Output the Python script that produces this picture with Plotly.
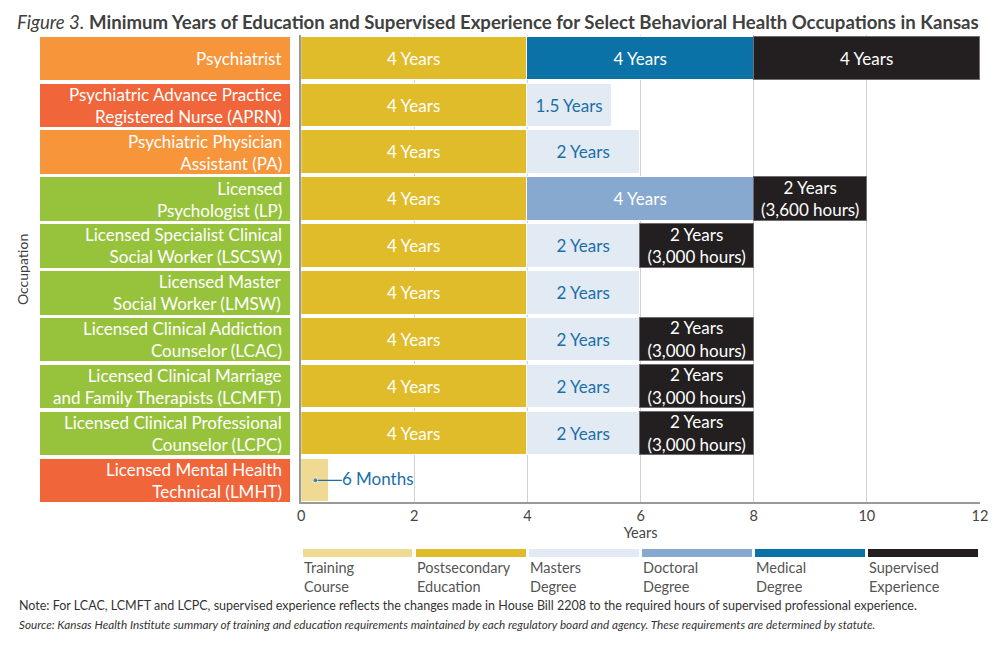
import plotly.graph_objects as go

# ---------------- data ----------------
occupations = [
    "Psychiatrist",
    "Psychiatric Advance Practice<br>Registered Nurse (APRN)",
    "Psychiatric Physician<br>Assistant (PA)",
    "Licensed<br>Psychologist (LP)",
    "Licensed Specialist Clinical<br>Social Worker (LSCSW)",
    "Licensed Master<br>Social Worker (LMSW)",
    "Licensed Clinical Addiction<br>Counselor (LCAC)",
    "Licensed Clinical Marriage<br>and Family Therapists (LCMFT)",
    "Licensed Clinical Professional<br>Counselor (LCPC)",
    "Licensed Mental Health<br>Technical (LMHT)",
]
label_colors = ["#F7953B", "#F1653A", "#F7953B", "#97C33C", "#97C33C",
                "#97C33C", "#97C33C", "#97C33C", "#97C33C", "#F1653A"]

training = [None, None, None, None, None, None, None, None, None, 0.5]
postsecondary = [4, 4, 4, 4, 4, 4, 4, 4, 4, None]
masters = [None, 1.5, 2, None, 2, 2, 2, 2, 2, None]
doctoral = [None, None, None, 4, None, None, None, None, None, None]
medical = [4, None, None, None, None, None, None, None, None, None]
supervised = [4, None, None, 2, 2, None, 2, 2, 2, None]

post_text = ["4 Years"] * 9 + [""]
masters_text = ["", "1.5 Years", "2 Years", "", "2 Years", "2 Years", "2 Years", "2 Years", "2 Years", ""]
doctoral_text = ["", "", "", "4 Years", "", "", "", "", "", ""]
medical_text = ["4 Years"] + [""] * 9
supervised_text = ["4 Years", "", "", "2 Years<br>(3,600 hours)", "2 Years<br>(3,000 hours)", "",
                   "2 Years<br>(3,000 hours)", "2 Years<br>(3,000 hours)", "2 Years<br>(3,000 hours)", ""]
training_note = "6 Months"

legend_names = ["Training<br>Course", "Postsecondary<br>Education", "Masters<br>Degree",
                "Doctoral<br>Degree", "Medical<br>Degree", "Supervised<br>Experience"]
legend_colors = ["#EFD993", "#E1BC2A", "#E2EAF4", "#87A9CF", "#0B72A8", "#231F20"]

x_ticks = [0, 2, 4, 6, 8, 10, 12]

# ---------------- geometry helpers ----------------
W, H = 1000, 645
ML, MR, MT, MB = 40, 17, 35, 85
PW = W - ML - MR
PH = H - MT - MB


def px(x):
    return (x - ML) / PW


def py(y):
    return (H - MB - y) / PH


FONT = "Lato"
rows = list(range(len(occupations)))
BW = 0.927

fig = go.Figure()

# label boxes (left)
fig.add_trace(go.Bar(
    x=[1] * len(rows), y=rows, orientation="h", width=BW,
    marker=dict(color=label_colors, line=dict(width=0)),
    xaxis="x2", yaxis="y", hoverinfo="skip", showlegend=False,
))

segments = [
    (training, [""] * 10, legend_colors[0], "#1A6FA8", "#FFFFFF"),
    (postsecondary, post_text, legend_colors[1], "#FFFFFF", "#FFFFFF"),
    (masters, masters_text, legend_colors[2], "#1A6FA8", "#FFFFFF"),
    (doctoral, doctoral_text, legend_colors[3], "#FFFFFF", "#FFFFFF"),
    (medical, medical_text, legend_colors[4], "#FFFFFF", "#FFFFFF"),
    (supervised, supervised_text, legend_colors[5], "#FFFFFF", "#6E6E6E"),
]
for vals, txt, col, tcol, lcol in segments:
    fig.add_trace(go.Bar(
        x=vals, y=rows, orientation="h", width=BW,
        marker=dict(color=col, line=dict(color=lcol, width=1)),
        text=txt, textposition="inside", insidetextanchor="middle",
        textfont=dict(family=FONT, size=17, color=tcol),
        constraintext="none",
        xaxis="x", yaxis="y", hoverinfo="skip", showlegend=False,
    ))

# 6 Months callout
fig.add_trace(go.Scatter(
    x=[training[9] / 2, 0.72], y=[9, 9], mode="lines+markers+text",
    line=dict(color="#1A6FA8", width=1.2),
    marker=dict(size=[5, 0], color="#1A6FA8"),
    text=["", training_note], textposition="middle right",
    textfont=dict(family=FONT, size=17, color="#1A6FA8"),
    xaxis="x", yaxis="y", hoverinfo="skip", showlegend=False, cliponaxis=False,
))

# legend bars
fig.add_trace(go.Bar(
    x=[i + 0.5 for i in range(6)], y=[1] * 6, width=0.97,
    marker=dict(color=legend_colors, line=dict(width=0)),
    xaxis="x3", yaxis="y3", hoverinfo="skip", showlegend=False,
))

annotations = []
for i, occ in enumerate(occupations):
    annotations.append(dict(
        x=0.975, y=i, xref="x2", yref="y", text=occ, showarrow=False,
        xanchor="right", yanchor="middle", align="right",
        font=dict(family=FONT, size=17, color="#FFFFFF"),
    ))
for i, nm in enumerate(legend_names):
    annotations.append(dict(
        x=i + 0.005, y=py(557), xref="x3", yref="paper", text=nm, showarrow=False,
        xanchor="left", yanchor="top", align="left",
        font=dict(family=FONT, size=14.5, color="#555555"),
    ))
annotations += [
    dict(x=px(15), y=py(22), xref="paper", yref="paper", xanchor="left", yanchor="middle",
         showarrow=False, align="left",
         text="<i>Figure 3.</i> <b>Minimum Years of Education and Supervised Experience for Select Behavioral Health Occupations in Kansas</b>",
         font=dict(family=FONT, size=18.6, color="#404040")),
    dict(x=px(22), y=py(270), xref="paper", yref="paper", xanchor="center", yanchor="middle",
         showarrow=False, textangle=-90, text="Occupation",
         font=dict(family=FONT, size=14, color="#404040")),
    dict(x=px(17), y=py(605), xref="paper", yref="paper", xanchor="left", yanchor="middle",
         showarrow=False, align="left",
         text="Note: For LCAC, LCMFT and LCPC, supervised experience reflects the changes made in House Bill 2208 to the required hours of supervised professional experience.",
         font=dict(family=FONT, size=12.5, color="#333333")),
    dict(x=px(17), y=py(624), xref="paper", yref="paper", xanchor="left", yanchor="middle",
         showarrow=False, align="left",
         text="<i>Source: Kansas Health Institute summary of training and education requirements maintained by each regulatory board and agency. These requirements are determined by statute.</i>",
         font=dict(family=FONT, size=11.7, color="#333333")),
]

fig.update_layout(
    width=W, height=H,
    margin=dict(l=ML, r=MR, t=MT, b=MB),
    paper_bgcolor="white", plot_bgcolor="white",
    barmode="stack", bargap=0,
    font=dict(family=FONT, color="#404040"),
    annotations=annotations,
    hovermode=False,
    xaxis=dict(domain=[px(302), 1], range=[0, 12], tickvals=x_ticks,
               showgrid=True, gridcolor="#D0D0D0", gridwidth=1,
               showline=True, linecolor="#999999", linewidth=1.5,
               zeroline=False, ticks="", anchor="y",
               tickfont=dict(family=FONT, size=14.5, color="#444444"),
               title=dict(text="Years", font=dict(family=FONT, size=14.5, color="#444444"), standoff=0),
               fixedrange=True),
    yaxis=dict(domain=[py(502), 1], range=[9.4635, -0.5], showticklabels=False,
               showgrid=False, zeroline=False, showline=True, linecolor="#999999",
               linewidth=1.5, anchor="x", ticks="", fixedrange=True),
    xaxis2=dict(domain=[0, px(291)], range=[0, 1], visible=False, anchor="y", fixedrange=True),
    xaxis3=dict(domain=[px(302), 1], range=[0, 6], visible=False, anchor="y3", fixedrange=True),
    yaxis3=dict(domain=[py(557), py(549)], range=[0, 1], visible=False, anchor="x3", fixedrange=True),
)

post = (
    "document.documentElement.style.overflow='hidden';"
    "document.body.style.margin='0';"
    "document.body.style.overflow='hidden';"
)
fig.write_html("out.html", config={"displayModeBar": False}, post_script=post)
